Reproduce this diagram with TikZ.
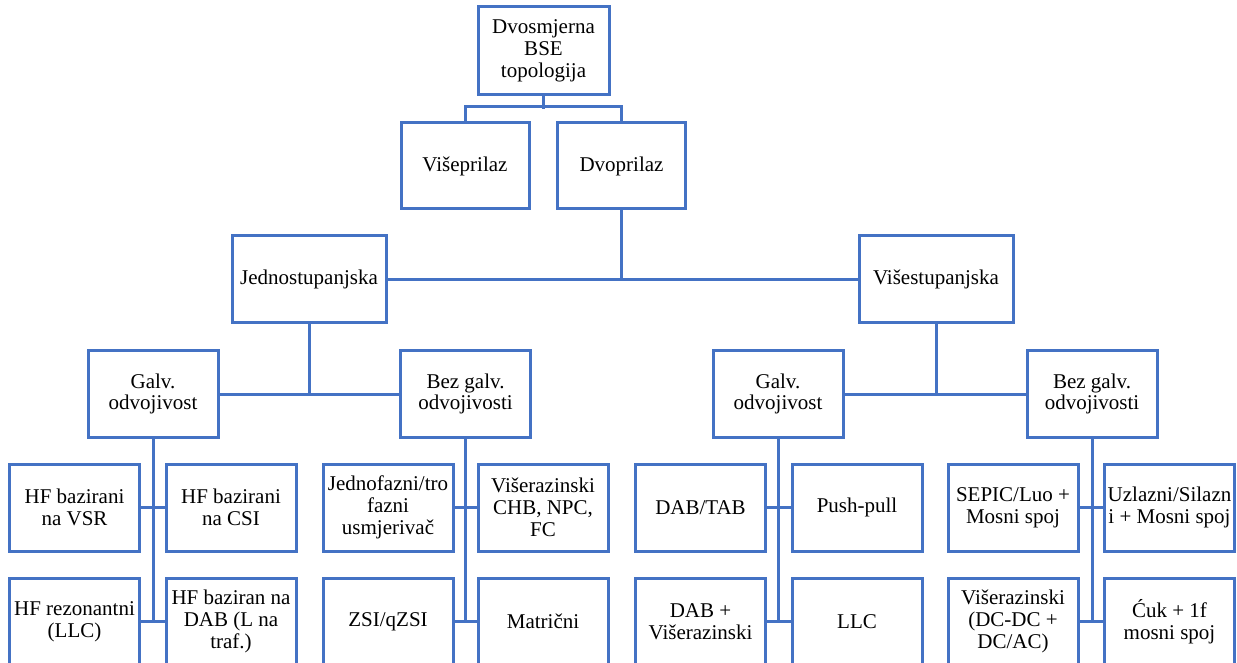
\documentclass[tikz,border=0pt]{standalone}
\usepackage{fontspec}
\setmainfont{Liberation Serif}
\definecolor{boxblue}{HTML}{4472C4}
\begin{document}
\begin{tikzpicture}[x=0.5pt,y=-0.5pt,
	box/.style={draw=boxblue,line width=1.5pt,inner sep=0pt,align=center,minimum width=65pt,minimum height=43.5pt,font=\fontsize{10.5}{10.9}\selectfont},
	link/.style={draw=boxblue,line width=1.5pt}]
			\clip (0,0) rectangle (1237,663);
			\node[box,minimum width=65.5pt,minimum height=44pt] (top) at (543.5,51) {Dvosmjerna\\BSE\\topologija};
			\node[box,minimum width=64pt,minimum height=43pt] (visepr) at (465,166) {Višeprilaz};
			\node[box,minimum width=64pt,minimum height=43pt] (dvopr) at (621.5,166) {Dvoprilaz};
			\node[box,minimum width=77pt] (jedno) at (309,279.5) {Jednostupanjska};
			\node[box,minimum width=77pt] (visest) at (936,279.5) {Višestupanjska};
			\node[box] (galvA) at (153,394) {Galv.\\odvojivost};
			\node[box] (bezA) at (465.5,394) {Bez galv.\\odvojivosti};
			\node[box] (galvB) at (778,394) {Galv.\\odvojivost};
			\node[box] (bezB) at (1092,394) {Bez galv.\\odvojivosti};
			\node[box] (a1) at (74.5,507.5) {HF bazirani\\na VSR};
			\node[box] (a2) at (231,507.5) {HF bazirani\\na CSI};
			\node[box] (a3) at (74.5,621.5) {HF rezonantni\\(LLC)};
			\node[box] (a4) at (231,621.5) {HF baziran na\\DAB (L na\\traf.)};
			\node[box] (b1) at (388,507.5) {Jednofazni/tro\\fazni\\usmjerivač};
			\node[box] (b2) at (543,507.5) {Višerazinski\\CHB, NPC,\\FC};
			\node[box] (b3) at (388,621.5) {ZSI/qZSI};
			\node[box] (b4) at (543,621.5) {Matrični};
			\node[box] (c1) at (700.5,507.5) {DAB/TAB};
			\node[box] (c2) at (857,507.5) {Push-pull};
			\node[box] (c3) at (700.5,621.5) {DAB +\\Višerazinski};
			\node[box] (c4) at (857,621.5) {LLC};
			\node[box] (d1) at (1013,507.5) {SEPIC/Luo +\\Mosni spoj};
			\node[box] (d2) at (1169.5,507.5) {Uzlazni/Silazn\\i + Mosni spoj};
			\node[box] (d3) at (1013,621.5) {Višerazinski\\(DC-DC +\\DC/AC)};
			\node[box] (d4) at (1169.5,621.5) {Ćuk + 1f\\mosni spoj};
			\draw[link] (top.south) -- ++(0,13);
			\draw[link] (visepr.north) -- ++(0,-15) -| (dvopr.north);
			\draw[link] (dvopr.south) |- (jedno.east);
			\draw[link] (dvopr.south) |- (visest.west);
			\draw[link] (jedno.south) |- (galvA.east);
			\draw[link] (jedno.south) |- (bezA.west);
			\draw[link] (visest.south) |- (galvB.east);
			\draw[link] (visest.south) |- (bezB.west);
			\draw[link] (galvA.south) -- (galvA.south |- a3.east);
			\draw[link] (a1.east) -- (a2.west);
			\draw[link] (a3.east) -- (a4.west);
			\draw[link] (bezA.south) -- (bezA.south |- b3.east);
			\draw[link] (b1.east) -- (b2.west);
			\draw[link] (b3.east) -- (b4.west);
			\draw[link] (galvB.south) -- (galvB.south |- c3.east);
			\draw[link] (c1.east) -- (c2.west);
			\draw[link] (c3.east) -- (c4.west);
			\draw[link] (bezB.south) -- (bezB.south |- d3.east);
			\draw[link] (d1.east) -- (d2.west);
			\draw[link] (d3.east) -- (d4.west);
\end{tikzpicture}
\end{document}
